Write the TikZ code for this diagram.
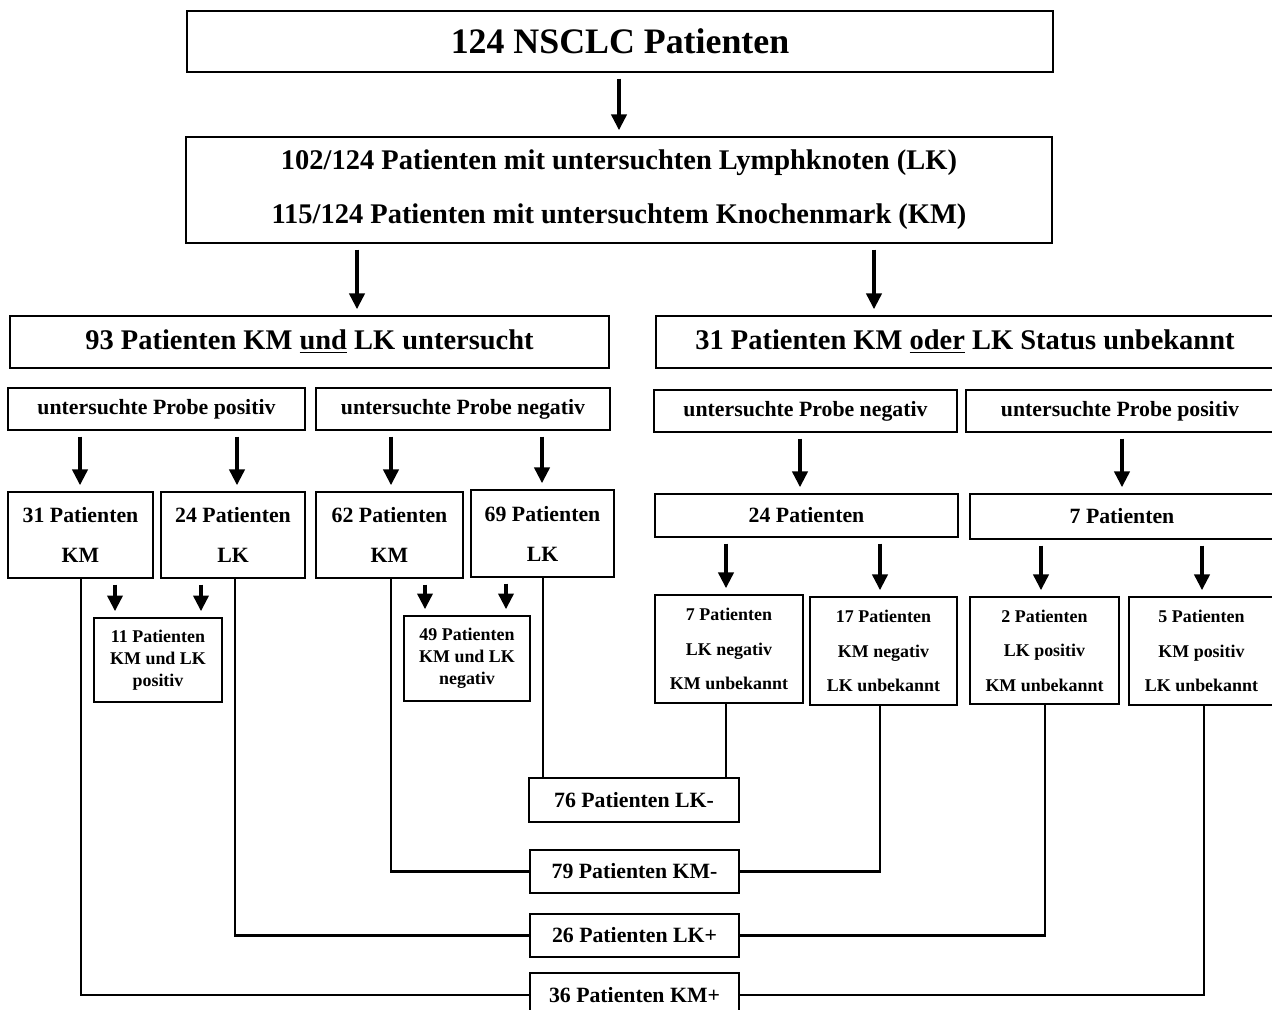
\documentclass[tikz,border=0pt]{standalone}
\usepackage{fontspec}
\setmainfont{Liberation Serif}
\usetikzlibrary{arrows.meta}

\newcommand\fTitle{\fontsize{20.4}{24}\selectfont\bfseries}
\newcommand\fBig{\fontsize{16.2}{30.6}\selectfont\bfseries}
\newcommand\fMed{\fontsize{12.4}{22.7}\selectfont\bfseries}
\newcommand\fSmall{\fontsize{10.2}{12.5}\selectfont\bfseries}
\newcommand\fSmallL{\fontsize{10.2}{19.6}\selectfont\bfseries}

\tikzset{
  bx/.style 2 args={draw, line width=0.8pt, inner sep=0pt, align=center,
    minimum width=#1*0.02cm, minimum height=#2*0.02cm},
  pfeil/.style={line width=2.2pt, -{Triangle[length=9pt,width=8.5pt]},
    shorten <=0.12cm, shorten >=0.12cm},
  linie/.style={line width=1.3pt}
}

\begin{document}
\begin{tikzpicture}[x=0.02cm, y=-0.02cm]
    \useasboundingbox (0,0) rectangle (1272,1009);

    % Kopf
    \node[bx={866}{61}, font=\fTitle] (top) at (620,41.5) {124 NSCLC Patienten};
    \node[bx={866}{106}, font=\fBig] (info) at (619,190)
        {102/124 Patienten mit untersuchten Lymphknoten (LK)\\115/124 Patienten mit untersuchtem Knochenmark (KM)};
    \node[bx={599}{52}, font=\fBig] (und) at (309.5,342) {93 Patienten KM \underline{und} LK untersucht};
    \node[bx={618}{52}, font=\fBig] (oder) at (965,342) {31 Patienten KM \underline{oder} LK Status unbekannt};

    % Proben
    \node[bx={297}{42}, font=\fMed] (posA) at (156.5,409) {untersuchte Probe positiv};
    \node[bx={294}{42}, font=\fMed] (negB) at (463,409) {untersuchte Probe negativ};
    \node[bx={303}{42}, font=\fMed] (negC) at (805.5,411) {untersuchte Probe negativ};
    \node[bx={308}{42}, font=\fMed] (posD) at (1120,411) {untersuchte Probe positiv};

    % Gruppen links
    \node[bx={145}{86}, font=\fMed] (km31) at (80.5,535) {31 Patienten\\KM};
    \node[bx={144}{86}, font=\fMed] (lk24) at (233,535) {24 Patienten\\LK};
    \node[bx={147}{86}, font=\fMed] (km62) at (389.5,535) {62 Patienten\\KM};
    \node[bx={143}{87}, font=\fMed] (lk69) at (542.5,533.5) {69 Patienten\\LK};
    \node[bx={128}{84}, font=\fSmall] (both11) at (158,660) {11 Patienten\\KM und LK\\positiv};
    \node[bx={126}{85}, font=\fSmall] (both49) at (467,658.5) {49 Patienten\\KM und LK\\negativ};

    % Gruppen rechts
    \node[bx={303}{43}, font=\fMed] (p24) at (806.5,515.5) {24 Patienten};
    \node[bx={304}{45}, font=\fMed] (p7) at (1122,516.5) {7 Patienten};
    \node[bx={148}{108}, font=\fSmallL] (lkneg7) at (729,649) {7 Patienten\\LK negativ\\KM unbekannt};
    \node[bx={147}{108}, font=\fSmallL] (kmneg17) at (883.5,651) {17 Patienten\\KM negativ\\LK unbekannt};
    \node[bx={149}{107}, font=\fSmallL] (lkpos2) at (1044.5,650.5) {2 Patienten\\LK positiv\\KM unbekannt};
    \node[bx={145}{108}, font=\fSmallL] (kmpos5) at (1201.5,651) {5 Patienten\\KM positiv\\LK unbekannt};

    % Summen
    \node[bx={210}{44}, font=\fMed] (lkminus) at (634,800) {76 Patienten LK-};
    \node[bx={209}{43}, font=\fMed] (kmminus) at (634.5,871.5) {79 Patienten KM-};
    \node[bx={209}{43}, font=\fMed] (lkplus) at (634.5,935.5) {26 Patienten LK+};
    \node[bx={209}{44}, font=\fMed] (kmplus) at (634.5,995) {36 Patienten KM+};

    % Pfeile
    \foreach \a/\b/\x in {top/info/619, info/und/357, info/oder/874,
        posA/km31/80, posA/lk24/237, negB/km62/391, negB/lk69/542,
        negC/p24/800, posD/p7/1122,
        km31/both11/115, lk24/both11/201, km62/both49/425, lk69/both49/506,
        p24/lkneg7/726, p24/kmneg17/880, p7/lkpos2/1041, p7/kmpos5/1202}
        \draw[pfeil] (\a.south -| \x,0) -- (\b.north -| \x,0);

    % Verbindungen
    \draw[linie] (lk69.south -| 543,0) -- (lkminus.north -| 543,0);
    \draw[linie] (lkneg7.south -| 726,0) -- (lkminus.north -| 726,0);
    \foreach \a/\b/\x in {km62/kmminus.west/391, kmneg17/kmminus.east/880,
        lk24/lkplus.west/235, lkpos2/lkplus.east/1045,
        km31/kmplus.west/81, kmpos5/kmplus.east/1204}
        \draw[linie] (\a.south -| \x,0) |- (\b);
\end{tikzpicture}
\end{document}
